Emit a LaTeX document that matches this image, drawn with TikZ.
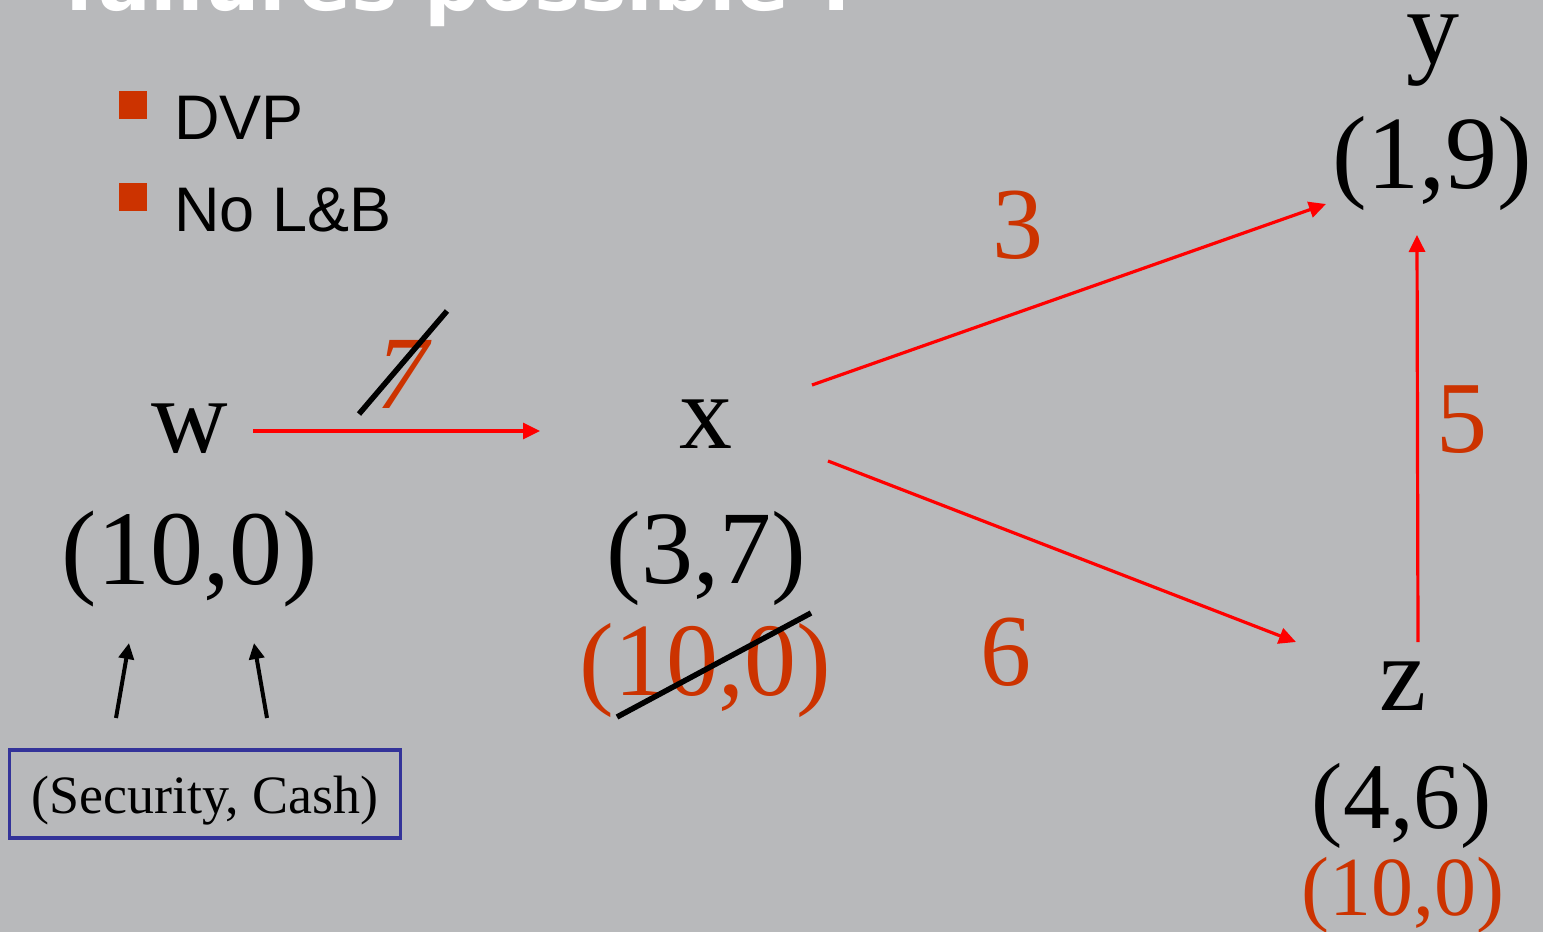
\documentclass[tikz,border=0pt]{standalone}
\usepackage{fontspec}
\setmainfont{Liberation Serif}
\newfontfamily\sansf{Liberation Sans}
\newfontfamily\titlef{DejaVu Sans Bold}
\usetikzlibrary{arrows.meta}
\definecolor{bg}{HTML}{B8B9BB}
\definecolor{lab}{HTML}{CC3300}
\definecolor{boxblue}{HTML}{333399}
\definecolor{edgered}{HTML}{FF0000}
\tikzset{
  lbl/.style={anchor=base, inner sep=0pt, font=\fontsize{106}{110}\selectfont},
  val/.style={anchor=base, inner sep=0pt, font=\fontsize{#1}{#1}\selectfont},
  redval/.style={val=#1, text=lab},
  flow/.style={draw=edgered, line width=3.2pt, -{Triangle[length=17pt,width=16pt]}},
  strike/.style={draw=black, line width=5.5pt},
  feed/.style={draw=black, line width=4pt, -{Triangle[length=16pt,width=15pt]}},
  bulletsq/.style={fill=lab, draw=none},
  bullettext/.style={anchor=base west, inner sep=0pt, font=\sansf\fontsize{63}{66}\selectfont},
  srcbox/.style={draw=boxblue, line width=3.5pt, minimum width=391pt, inner sep=0pt,
    text height=64pt, text depth=24pt, font=\fontsize{54}{57}\selectfont}
}
\begin{document}
\begin{tikzpicture}[x=1pt,y=-1pt]
\fill[bg] (0,0) rectangle (1543,932);
\useasboundingbox (0,0) rectangle (1543,932);

% title (cut off at top)
\node[anchor=base west, inner sep=0pt, text=white, font=\titlef\fontsize{78}{80}\selectfont] (title) at (64,10) {failures possible ?};

% bullets
\fill[bulletsq] (119,91) rectangle (147,119);
\fill[bulletsq] (119,183) rectangle (147,211);
\node[bullettext] (b1) at (174,139) {DVP};
\node[bullettext] (b2) at (174,231) {No L\&B};

% node labels
\node[lbl] (w) at (190,452) {w};
\node[val=106] (wv) at (190,584) {(10,0)};
\node[lbl] (x) at (706,448) {x};
\node[val=104] (xv) at (706,583) {(3,7)};
\node[redval=104] (xr) at (705,695) {(10,0)};
\node[lbl] (y) at (1433,63) {y};
\node[val=104] (yv) at (1432,188) {(1,9)};
\node[lbl] (z) at (1403,710) {z};
\node[val=94] (zv) at (1402,828) {(4,6)};
\node[redval=84] (zr) at (1403,915) {(10,0)};

% edge weights
\node[redval=104, font=\itshape\fontsize{104}{104}\selectfont] (l7) at (402,408) {7};
\node[redval=102] (l3) at (1018,258) {3};
\node[redval=102] (l5) at (1462,452) {5};
\node[redval=102] (l6) at (1006,685) {6};

% connector end points
\coordinate (wx1) at (253,431);
\coordinate (wx2) at (540,431);
\coordinate (xy1) at (812,385);
\coordinate (xy2) at (1326,204);
\coordinate (xz1) at (828,461);
\coordinate (xz2) at (1296,642);
\coordinate (zy1) at (1418,642);
\coordinate (zy2) at (1417,235);

\draw[flow] (wx1) -- (wx2);
\draw[flow] (xy1) -- (xy2);
\draw[flow] (xz1) -- (xz2);
\draw[flow] (zy1) -- (zy2);

% strike-throughs
\coordinate (s7a) at (359,414);
\coordinate (s7b) at (447,311);
\draw[strike] (s7a) -- (s7b);
\coordinate (sxa) at (617,717);
\coordinate (sxb) at (811,613);
\draw[strike] (sxa) -- (sxb);

% source box and feed arrows
\node[srcbox, anchor=north] (src) at (205,748) {(Security, Cash)};
\coordinate (f1a) at (116,718);
\coordinate (f1b) at (129,643);
\coordinate (f2a) at (267,718);
\coordinate (f2b) at (254,643);
\draw[feed] (f1a) -- (f1b);
\draw[feed] (f2a) -- (f2b);
\end{tikzpicture}
\end{document}
